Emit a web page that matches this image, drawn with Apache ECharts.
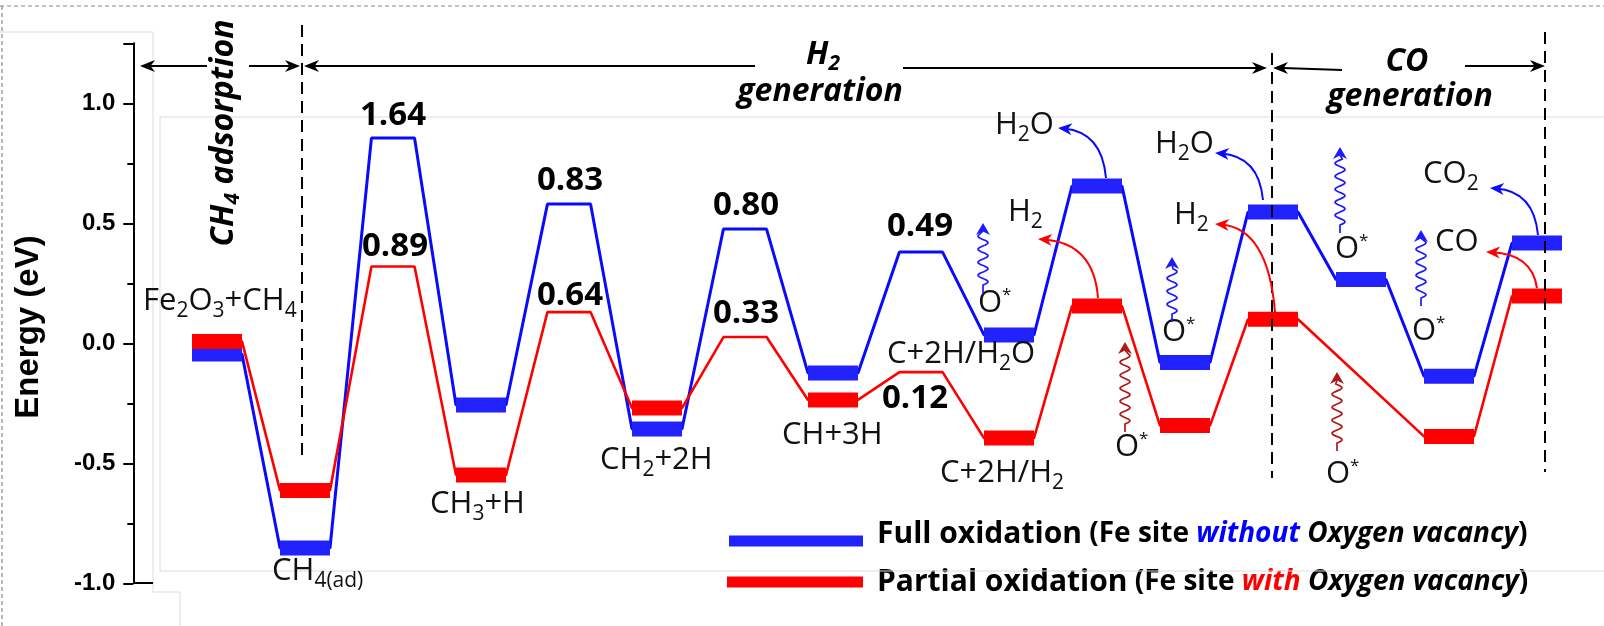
<!DOCTYPE html>
<html>
<head>
<meta charset="utf-8">
<script src="https://cdn.jsdelivr.net/npm/echarts@6/dist/echarts.min.js"></script>
<style>
html,body{margin:0;padding:0;background:#fff;}
#chart{width:1604px;height:626px;}
</style>
</head>
<body>
<div id="chart"></div>
<script>
// reaction path, one entry per step (TS = transition state, drawn as thin plateau)
var steps = ['Fe2O3+CH4','CH4(ad)','TS1','CH3+H','TS2','CH2+2H','TS3','CH+3H','TS4','C+2H','C+O','C+2H*','CO*','CO+O','C+O*','CO2/CO'];
var isTS = [0,0,1,0,1,0,1,0,1,0,0,0,0,0,0,0];
var fullE = [-0.045,-0.853,0.855,-0.257,0.58,-0.357,0.476,-0.124,0.38,0.035,0.655,-0.08,0.547,0.266,-0.137,0.418];
var partialE = [0.008,-0.613,0.32,-0.549,0.13,-0.27,0.026,-0.236,-0.12,-0.395,0.155,-0.343,0.1,null,-0.388,0.197];
var barrierText = ['1.64','0.89','0.83','0.64','0.80','0.33','0.49','0.12'];

var BLUE_LINE = '#0a0aff', BLUE_BAR = '#2222ff', RED = '#ff0000';

function pathData(vals){
  var d = [];
  vals.forEach(function(v,i){
    if(v == null) return;
    var hw = isTS[i] ? 0.245 : 0.284;
    d.push([i-hw, v], [i+hw, v]);
  });
  return d;
}
function barData(vals){
  var d = [];
  vals.forEach(function(v,i){
    if(v == null || isTS[i]) return;
    d.push([i-0.284, v], [i+0.284, v], [i, '-']);
  });
  return d;
}

// ---- annotations ----
var G = [];
var R = {
  n:{fontFamily:'Open Sans', fontSize:31, fill:'#111', lineHeight:46},
  s:{fontFamily:'Open Sans', fontSize:21, fill:'#111', padding:[20,0,0,0]},
  p:{fontFamily:'Open Sans', fontSize:17, fill:'#111', padding:[0,0,16,0]},
  b:{fontFamily:'Open Sans', fontSize:33, fontWeight:'bold', fill:'#000', lineHeight:46},
  t:{fontFamily:'Open Sans', fontSize:32, fontWeight:'bold', fontStyle:'italic', fill:'#000', lineHeight:46},
  ts:{fontFamily:'Open Sans', fontSize:21, fontWeight:'bold', fontStyle:'italic', fill:'#000', padding:[18,0,0,0]}
};
function T(x, y, text, align, rot){
  G.push({type:'text', x:x, y:y, rotation:rot||0, z:100, silent:true,
    style:{text:text, align:align||'left', verticalAlign:'middle', rich:R, fill:'#000', fontFamily:'Open Sans', fontSize:30}});
}
function L(x1,y1,x2,y2,color,w,dash){
  G.push({type:'line', z:100, silent:true, shape:{x1:x1,y1:y1,x2:x2,y2:y2},
    style:{stroke:color, lineWidth:w, lineDash:dash||null}});
}
function head(x,y,ang,color,len,wid){
  var dx=Math.cos(ang), dy=Math.sin(ang), px=-dy, py=dx;
  var bx=x-dx*len, by=y-dy*len, nx=x-dx*len*0.7, ny=y-dy*len*0.7;
  G.push({type:'polygon', z:101, silent:true,
    shape:{points:[[x,y],[bx+px*wid/2,by+py*wid/2],[nx,ny],[bx-px*wid/2,by-py*wid/2]]},
    style:{fill:color}});
}
function curl(x0,y0,cx,cy,x1,y1,color){
  var ang = Math.atan2(y1-cy, x1-cx);
  G.push({type:'bezierCurve', z:100, silent:true,
    shape:{x1:x0,y1:y0,cpx1:cx,cpy1:cy,x2:x1-Math.cos(ang)*6,y2:y1-Math.sin(ang)*6},
    style:{stroke:color, lineWidth:2, fill:null}});
  head(x1,y1,ang,color,14,12);
}
function wave(X,yb,yt,color){
  var pts=[[X,yb],[X,yb-8]];
  var y0=yb-8, y1=yt+12, n=60;
  for(var k=1;k<=n;k++){
    var y=y0+(y1-y0)*k/n;
    pts.push([X+5*Math.sin(2*Math.PI*(y0-y)/13), y]);
  }
  pts.push([X,yt+8]);
  G.push({type:'polyline', z:100, silent:true, shape:{points:pts}, style:{stroke:color, lineWidth:1.7, fill:null}});
  head(X,yt,-Math.PI/2,color,12,14);
}

// faint frame lines and dashed border
var FAINT = '#dcdcdc';
L(0,32,153,32,FAINT,1); L(153,32,153,592,FAINT,1); L(153,592,180,592,FAINT,1); L(180,592,180,626,FAINT,1);
L(160,117,1604,117,FAINT,1); L(160,117,160,571,FAINT,1); L(160,571,1604,571,FAINT,1);
L(0,6,1604,6,'#888',1.2,[4,3]); L(2,6,2,626,'#888',1.2,[4,3]);
L(133,583,153,583,'#000',2);

// section dividers
L(302,25,302,460,'#000',2,[12,7]);
L(1272,53,1272,478,'#000',2,[12,7]);
L(1545,32,1545,472,'#000',2,[12,7]);

// section arrows
L(150,66,207,66,'#000',2); head(140,66,Math.PI,'#000',15,12);
L(249,66,290,66,'#000',2); head(300,66,0,'#000',15,12);
L(314,66,755,66,'#000',2); head(304,66,Math.PI,'#000',15,12);
L(903,68,1257,68,'#000',2); head(1267,68,0,'#000',15,12);
L(1283,68,1342,70,'#000',2); head(1273,68,Math.PI,'#000',15,12);
L(1465,66,1535,66,'#000',2); head(1545,66,0,'#000',15,12);

// section titles
T(224,133,'{t|CH}{ts|4}{t| adsorption}','center',Math.PI/2);
T(823,55,'{t|H}{ts|2}','center');
T(820,92,'{t|generation}','center');
T(1407,62,'{t|CO}','center');
T(1410,97,'{t|generation}','center');
G.push({type:'text', x:29, y:327, rotation:Math.PI/2, z:100, silent:true,
  style:{text:'Energy (eV)', align:'center', verticalAlign:'middle', fill:'#000',
    font:'bold 33px "Liberation Sans", Arial, sans-serif'}});

// species labels
T(143,301,'{n|Fe}{s|2}{n|O}{s|3}{n|+CH}{s|4}');
T(272,571,'{n|CH}{s|4(ad)}');
T(430,504,'{n|CH}{s|3}{n|+H}');
T(600,460,'{n|CH}{s|2}{n|+2H}');
T(782,435,'{n|CH+3H}');
T(887,354,'{n|C+2H/H}{s|2}{n|O}');
T(940,473,'{n|C+2H/H}{s|2}');
T(995,125,'{n|H}{s|2}{n|O}');
T(1008,212,'{n|H}{s|2}');
T(1155,144,'{n|H}{s|2}{n|O}');
T(1174,215,'{n|H}{s|2}');
T(1423,174,'{n|CO}{s|2}');
T(1435,242,'{n|CO}');
[[978,303],[1162,332],[1115,447],[1335,249],[1412,331],[1326,474]].forEach(function(p){
  T(p[0],p[1],'{n|O}{p|*}');
});

// barrier values
var barrierPos = [[393,116],[395,247],[570,181],[570,296],[746,206],[746,314],[920,227],[915,399]];
barrierText.forEach(function(s,i){ T(barrierPos[i][0], barrierPos[i][1], '{b|'+s+'}', 'center'); });

// product release arrows
curl(1106,178,1102,132,1058,128,BLUE_LINE);
curl(1098,298,1094,243,1038,239,RED);
curl(1263,200,1259,156,1215,153,BLUE_LINE);
curl(1275,312,1268,228,1215,224,RED);
curl(1538,235,1534,191,1490,188,BLUE_LINE);
curl(1537,288,1532,254,1486,252,RED);

// oxygen supply arrows
wave(983,293,223,'#1a1aff');
wave(1172,322,257,'#1a1aff');
wave(1125,432,342,'#b01818');
wave(1340,233,147,'#1a1aff');
wave(1421,306,230,'#1a1aff');
wave(1337,451,372,'#b01818');

function legendRich(c){
  return {
    a:{fontFamily:'Open Sans', fontWeight:'bold', fontSize:30, color:'#000', lineHeight:40, padding:[0,0,0,9]},
    b:{fontFamily:'Open Sans', fontWeight:'bold', fontSize:28, color:'#000'},
    c:{fontFamily:'Open Sans', fontWeight:'bold', fontStyle:'italic', fontSize:28, color:c},
    d:{fontFamily:'Open Sans', fontWeight:'bold', fontStyle:'italic', fontSize:28, color:'#000'},
    e:{fontFamily:'Open Sans', fontWeight:'bold', fontSize:28, color:'#000'}
  };
}

var chart = echarts.init(document.getElementById('chart'));
chart.setOption({
  animation:false,
  backgroundColor:'#fff',
  grid:{left:133.3, right:9.8, top:43.3, bottom:42.7},
  xAxis:{type:'value', min:-0.951, max:15.65, show:false},
  yAxis:{
    type:'value', min:-1, max:1.25, interval:0.5,
    axisLine:{show:true, onZero:false, lineStyle:{color:'#000', width:2}},
    axisTick:{show:true, length:10, lineStyle:{color:'#000', width:2}},
    minorTick:{show:true, splitNumber:2, length:6, lineStyle:{color:'#000', width:2}},
    splitLine:{show:false},
    axisLabel:{margin:18, showMaxLabel:false, fontFamily:'Liberation Sans', fontWeight:'bold', fontSize:24, color:'#000',
      formatter:function(v){ return v.toFixed(1); }}
  },
  legend:[
    {data:[{name:'Full oxidation', icon:'rect', itemStyle:{color:BLUE_BAR}}],
     left:729, top:519, padding:0, itemWidth:134, itemHeight:11, selectedMode:false,
     formatter:function(){ return '{a|Full oxidation}{b| (Fe site }{c|without}{d| Oxygen vacancy}{e|)}'; },
     textStyle:{padding:[0,0,14,0], rich:legendRich('#0000ff')}},
    {data:[{name:'Partial oxidation', icon:'rect', itemStyle:{color:RED}}],
     left:727, top:567, padding:0, itemWidth:136, itemHeight:11, selectedMode:false,
     formatter:function(){ return '{a|Partial oxidation}{b| (Fe site }{c|with}{d| Oxygen vacancy}{e|)}'; },
     textStyle:{rich:legendRich('#ff0000')}}
  ],
  series:[
    {name:'Full oxidation', type:'line', data:pathData(fullE), symbol:'none', z:2, silent:true,
     itemStyle:{color:BLUE_BAR}, lineStyle:{color:BLUE_LINE, width:3}},
    {name:'Full oxidation', type:'line', data:barData(fullE), symbol:'none', z:3, silent:true,
     itemStyle:{color:BLUE_BAR}, lineStyle:{color:BLUE_BAR, width:15, cap:'butt'}},
    {name:'Partial oxidation', type:'line', data:pathData(partialE), symbol:'none', z:4, silent:true,
     itemStyle:{color:RED}, lineStyle:{color:RED, width:2.6}},
    {name:'Partial oxidation', type:'line', data:barData(partialE), symbol:'none', z:5, silent:true,
     itemStyle:{color:RED}, lineStyle:{color:RED, width:15, cap:'butt'}}
  ],
  graphic:{elements:G}
});
</script>
</body>
</html>
